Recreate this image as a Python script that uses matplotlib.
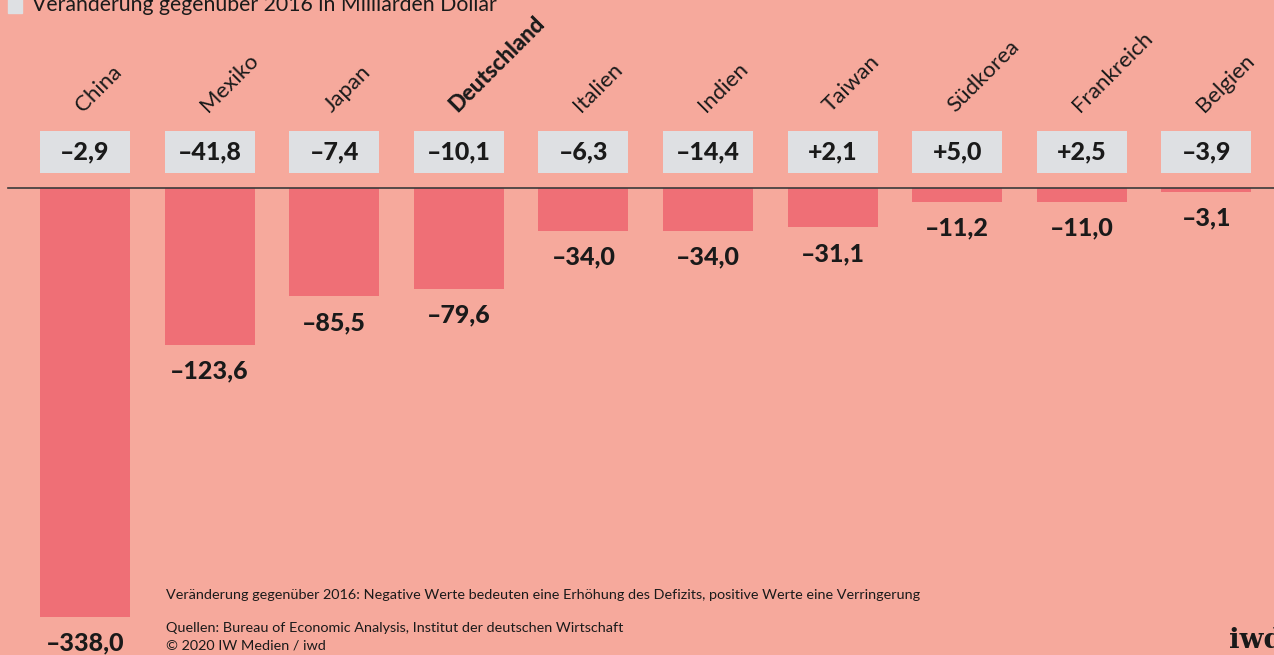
import matplotlib.pyplot as plt

laender = ["China", "Mexiko", "Japan", "Deutschland", "Italien", "Indien",
           "Taiwan", "Südkorea", "Frankreich", "Belgien"]
defizit_2019 = [-338.0, -123.6, -85.5, -79.6, -34.0, -34.0, -31.1, -11.2, -11.0, -3.1]
veraenderung = [-2.9, -41.8, -7.4, -10.1, -6.3, -14.4, 2.1, 5.0, 2.5, -3.9]

bg = "#f6a99c"
bar_col = "#ef6f76"
box_col = "#dee0e3"

plt.rcParams["font.family"] = ["Lato", "DejaVu Sans"]


def fmt(v, sign=False):
    s = f"{abs(v):.1f}".replace(".", ",")
    if v < 0:
        return "\u2013" + s
    return ("+" + s) if sign else s


fig = plt.figure(figsize=(12.74, 6.55), dpi=100, facecolor=bg)
ax = fig.add_axes([0, 0, 1, 1])
ax.set_facecolor(bg)

px = 1.269  # pixel pro Milliarde
ax.set_xlim(-85 / 124.6, (1274 - 85) / 124.6)
ax.set_ylim(-(655 - 188) / px, 188 / px)
ax.axis("off")

x = list(range(len(laender)))
ax.bar(x, defizit_2019, width=0.722, color=bar_col, zorder=2)
ax.axhline(0, xmin=8 / 1274, xmax=1, color="#3a3a3a", lw=1.2, zorder=3)

# Kästchen mit Veränderung
box_lo = (188 - 173) / px
box_hi = (188 - 131) / px
ax.bar(x, [box_hi - box_lo] * len(x), bottom=box_lo, width=0.722, color=box_col, zorder=2)

for i, (land, tot, ch) in enumerate(zip(laender, defizit_2019, veraenderung)):
    ax.text(i, (box_lo + box_hi) / 2, fmt(ch, sign=True), ha="center", va="center",
            fontsize=18, fontweight="black", color="#1a1a1a", zorder=4)
    ax.annotate(fmt(tot), xy=(i, tot), xytext=(0, -26), textcoords="offset pixels",
                ha="center", va="center", fontsize=18, fontweight="black", color="#1a1a1a")
    ax.annotate(land, xy=(i, (188 - 113) / px), xytext=(-2, 0), textcoords="offset pixels",
                rotation=45, rotation_mode="anchor", ha="left", va="baseline",
                fontsize=16, color="#1a1a1a",
                fontweight="black" if land == "Deutschland" else "normal")

# Legende oben (angeschnitten)
fig.patches.append(plt.Rectangle((8 / 1274, 1 - 13 / 655), 14 / 1274, 14 / 655,
                                 transform=fig.transFigure, color=box_col))
fig.text(32 / 1274, 1 - 5 / 655, "Veränderung gegenüber 2016 in Milliarden Dollar",
         ha="left", va="center", fontsize=15.3, color="#1a1a1a")

fig.text(166 / 1274, 1 - 595 / 655,
         "Veränderung gegenüber 2016: Negative Werte bedeuten eine Erhöhung des Defizits, "
         "positive Werte eine Verringerung",
         ha="left", va="center", fontsize=10.4, color="#1a1a1a")
fig.text(166 / 1274, 1 - 628 / 655,
         "Quellen: Bureau of Economic Analysis, Institut der deutschen Wirtschaft",
         ha="left", va="center", fontsize=10.4, color="#1a1a1a")
fig.text(166 / 1274, 1 - 646 / 655, "© 2020 IW Medien / iwd",
         ha="left", va="center", fontsize=10.4, color="#1a1a1a")
fig.text(1229 / 1274, 1 - 640 / 655, "iwd", ha="left", va="center",
         fontsize=20, fontweight="bold", family="DejaVu Serif", color="#1a1a1a")

fig.savefig("out.png", dpi=100, facecolor=bg)
